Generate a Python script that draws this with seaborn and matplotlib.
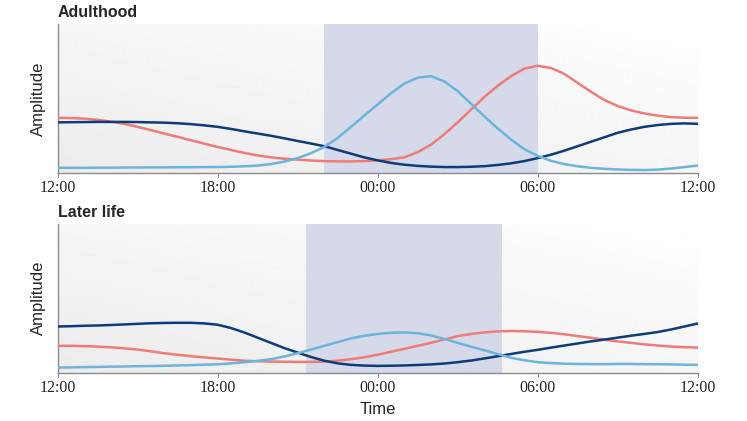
import numpy as np
import pandas as pd
import matplotlib
matplotlib.use("Agg")
import matplotlib.pyplot as plt
import seaborn as sns

# hours after 12:00, every half hour (0 = 12:00, 24 = next day 12:00)
hours = [h / 2 for h in range(49)]
tick_hours = [0, 6, 12, 18, 24]
tick_labels = ["12:00", "18:00", "00:00", "06:00", "12:00"]

# Adulthood
adult_red = [0.37, 0.369, 0.365, 0.357, 0.345, 0.33, 0.31, 0.288, 0.265, 0.243, 0.22, 0.197,
             0.175, 0.155, 0.135, 0.118, 0.105, 0.096, 0.09, 0.084, 0.08, 0.078, 0.078, 0.08,
             0.085, 0.093, 0.105, 0.14, 0.19, 0.26, 0.34, 0.425, 0.51, 0.585, 0.65, 0.70,
             0.72, 0.705, 0.665, 0.605, 0.545, 0.49, 0.45, 0.42, 0.40, 0.385, 0.375, 0.371, 0.37]
adult_navy = [0.34, 0.341, 0.342, 0.343, 0.343, 0.343, 0.342, 0.34, 0.338, 0.334, 0.328, 0.32,
              0.31, 0.296, 0.28, 0.265, 0.25, 0.233, 0.215, 0.198, 0.18, 0.155, 0.13, 0.105,
              0.085, 0.068, 0.056, 0.048, 0.043, 0.04, 0.04, 0.042, 0.046, 0.054, 0.065, 0.08,
              0.10, 0.123, 0.15, 0.18, 0.21, 0.24, 0.27, 0.292, 0.31, 0.322, 0.33, 0.333, 0.33]
adult_light = [0.035, 0.035, 0.035, 0.036, 0.036, 0.037, 0.037, 0.038, 0.038, 0.039, 0.039, 0.04,
               0.04, 0.042, 0.045, 0.05, 0.06, 0.077, 0.10, 0.133, 0.175, 0.235, 0.31, 0.385,
               0.46, 0.535, 0.60, 0.64, 0.65, 0.615, 0.55, 0.465, 0.38, 0.30, 0.225, 0.16,
               0.115, 0.082, 0.06, 0.045, 0.035, 0.028, 0.024, 0.021, 0.02, 0.023, 0.03, 0.04, 0.05]
adult_night = (10, 18)

# Later life
later_red = [0.18, 0.18, 0.178, 0.175, 0.17, 0.163, 0.155, 0.143, 0.13, 0.12, 0.11, 0.102,
             0.095, 0.087, 0.08, 0.076, 0.074, 0.073, 0.072, 0.072, 0.074, 0.08, 0.09, 0.103,
             0.12, 0.14, 0.16, 0.18, 0.20, 0.223, 0.245, 0.26, 0.27, 0.277, 0.28, 0.278,
             0.274, 0.267, 0.258, 0.246, 0.234, 0.222, 0.21, 0.2, 0.19, 0.182, 0.175, 0.171, 0.168]
later_navy = [0.31, 0.312, 0.315, 0.317, 0.32, 0.324, 0.328, 0.332, 0.334, 0.335, 0.335, 0.331,
              0.322, 0.30, 0.27, 0.235, 0.20, 0.165, 0.135, 0.105, 0.08, 0.062, 0.052, 0.047,
              0.045, 0.046, 0.048, 0.051, 0.055, 0.061, 0.07, 0.081, 0.095, 0.11, 0.125, 0.14,
              0.153, 0.168, 0.182, 0.196, 0.21, 0.222, 0.235, 0.248, 0.26, 0.273, 0.29, 0.31, 0.33]
later_light = [0.034, 0.035, 0.037, 0.038, 0.04, 0.041, 0.043, 0.044, 0.046, 0.048, 0.05, 0.053,
               0.056, 0.062, 0.07, 0.079, 0.09, 0.108, 0.13, 0.155, 0.18, 0.205, 0.23, 0.248,
               0.26, 0.268, 0.27, 0.265, 0.25, 0.227, 0.20, 0.175, 0.15, 0.125, 0.10, 0.083,
               0.07, 0.064, 0.06, 0.058, 0.057, 0.057, 0.058, 0.058, 0.057, 0.056, 0.055, 0.053, 0.052]
later_night = (9.33, 16.67)

palette = {"red": "#ef7b79", "navy": "#0c3c7a", "light": "#6cb4dc"}

sns.set_style("white")
plt.rcParams["font.family"] = ["Liberation Sans", "DejaVu Sans"]

fig = plt.figure(figsize=(7.47, 4.21), dpi=100)
ax_top = fig.add_axes([0.077, 0.589, 0.857, 0.354])
ax_bot = fig.add_axes([0.077, 0.115, 0.857, 0.353])

# light grey to white background gradient
gx, gy = np.meshgrid(np.linspace(0, 1, 200), np.linspace(0, 1, 100))
grad = np.clip(1 - 0.5 * (gx + (1 - gy)), 0, 1)

n = len(hours)
panels = [
    (ax_top, "Adulthood", adult_red, adult_navy, adult_light, adult_night),
    (ax_bot, "Later life", later_red, later_navy, later_light, later_night),
]

for ax, title, red, navy, light, night in panels:
    df = pd.DataFrame({
        "hour": hours * 3,
        "amp": red + navy + light,
        "series": ["red"] * n + ["navy"] * n + ["light"] * n,
    })
    ax.imshow(1 - grad * 0.075, cmap="gray", vmin=0, vmax=1, aspect="auto",
              extent=[0, 1, 0, 1], transform=ax.transAxes, zorder=0)
    ax.axvspan(night[0], night[1], color="#d5d9ea", zorder=1, lw=0)
    sns.lineplot(data=df, x="hour", y="amp", hue="series", palette=palette,
                 linewidth=1.8, legend=False, ax=ax, zorder=3)
    ax.set_xlim(0, 24)
    ax.set_ylim(0, 1)
    ax.set_xticks(tick_hours)
    ax.set_xticklabels(tick_labels, fontfamily="Liberation Serif", fontsize=11.5)
    ax.set_yticks([])
    ax.set_ylabel("Amplitude", fontsize=12, labelpad=8)
    ax.set_xlabel("")
    ax.tick_params(axis="x", length=3, width=0.8, color="#888888", pad=2, bottom=True)
    for side in ["top", "right"]:
        ax.spines[side].set_visible(False)
    for side in ["left", "bottom"]:
        ax.spines[side].set_color("#8c8c8c")
        ax.spines[side].set_linewidth(1.0)
    ax.text(0.0, 1.03, title, transform=ax.transAxes, fontsize=11.5,
            fontweight="bold", ha="left", va="bottom")

ax_bot.set_xlabel("Time", fontsize=12, labelpad=5)

fig.savefig("out.png", dpi=100)
